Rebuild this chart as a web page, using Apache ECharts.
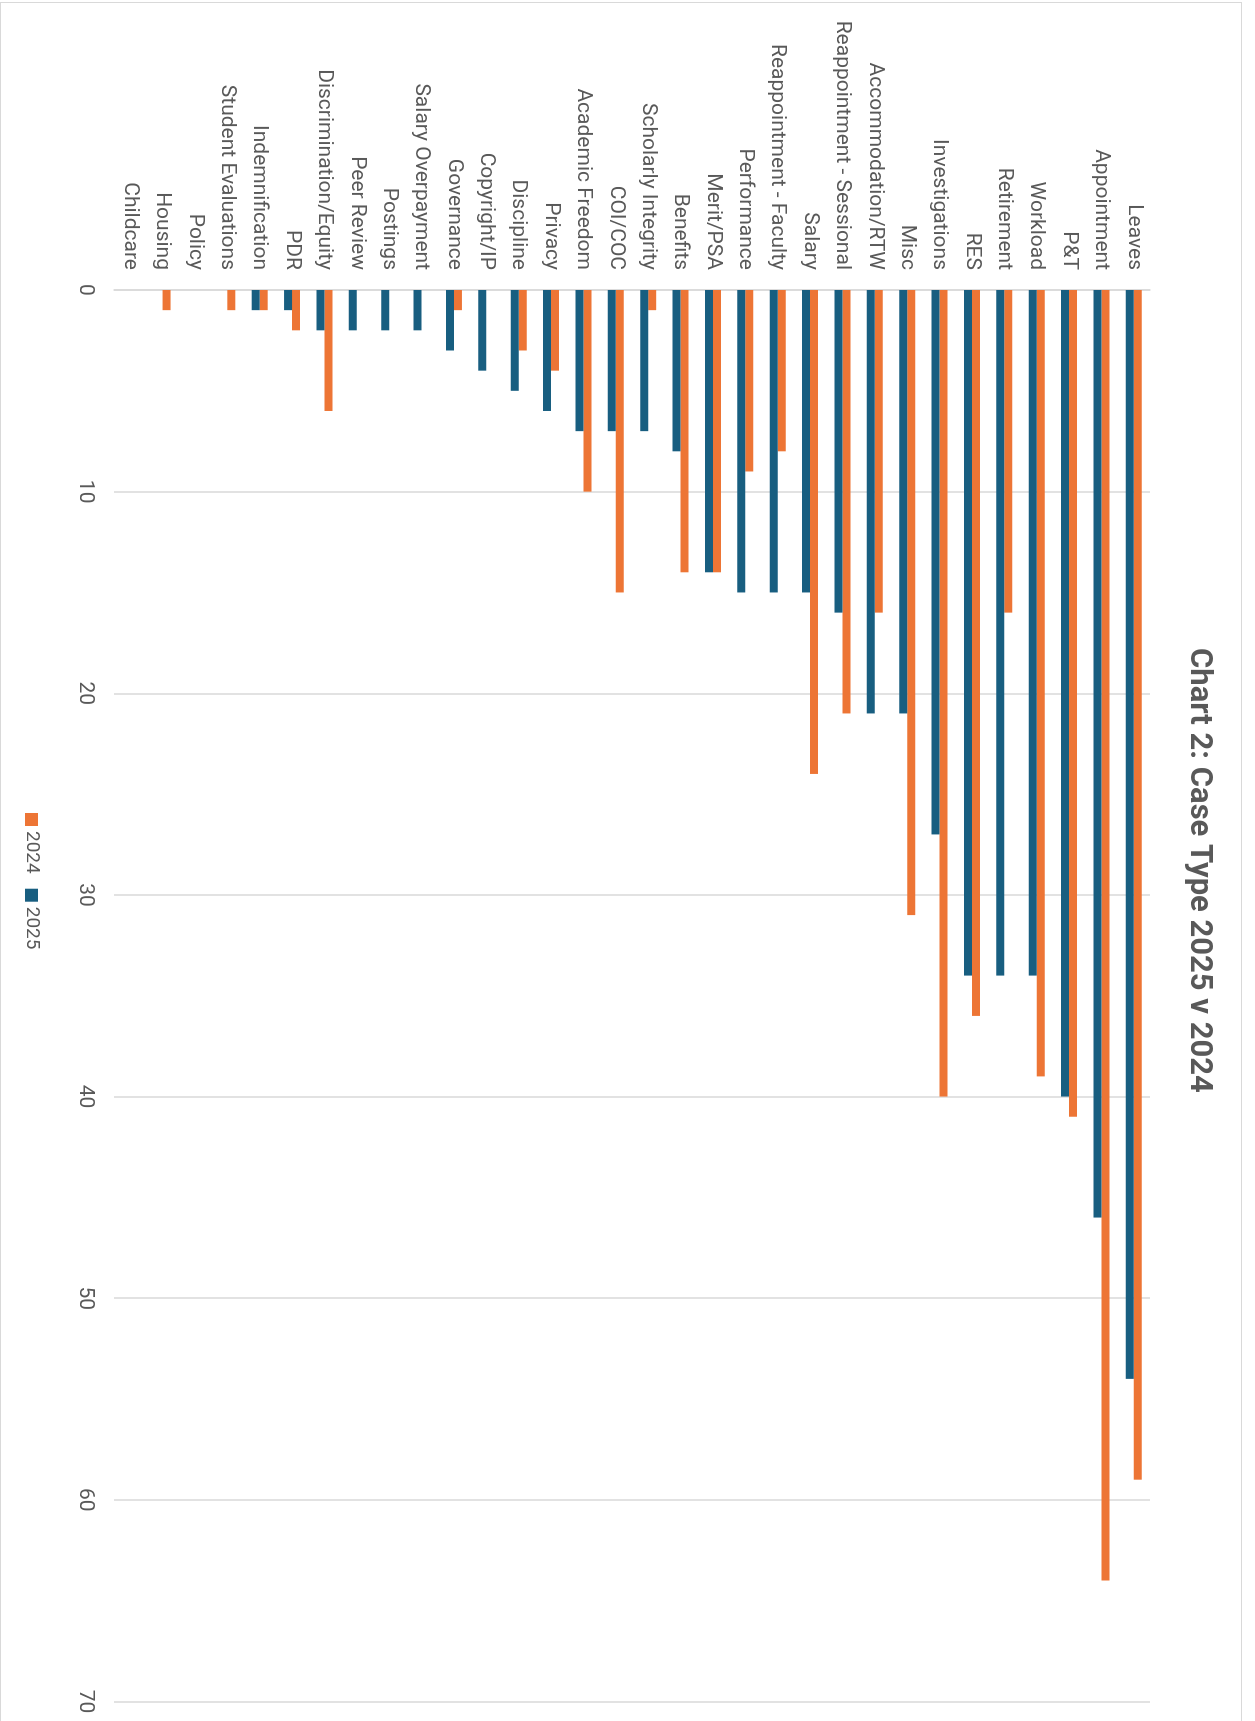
<!DOCTYPE html>
<html>
<head>
<meta charset="utf-8">
<script src="https://cdn.jsdelivr.net/npm/echarts@6/dist/echarts.min.js"></script>
<style>
  html, body { margin: 0; padding: 0; background: #fff; overflow: hidden; width: 1255px; height: 1721px; }
  #frame { position: absolute; left: 0; top: 2px; width: 1242px; height: 1725px; border: 1.5px solid #d9d9d9; box-sizing: border-box; }
  #chart { position: absolute; left: 1255px; top: 0; width: 1721px; height: 1255px; transform-origin: 0 0; transform: rotate(90deg); }
</style>
</head>
<body>
<div id="frame"></div>
<div id="chart"></div>
<script>
const categories = ['Leaves','Appointment','P&T','Workload','Retirement','RES','Investigations','Misc','Accommodation/RTW','Reappointment - Sessional','Salary','Reappointment - Faculty','Performance','Merit/PSA','Benefits','Scholarly Integrity','COI/COC','Academic Freedom','Privacy','Discipline','Copyright/IP','Governance','Salary Overpayment','Postings','Peer Review','Discrimination/Equity','PDR','Indemnification','Student Evaluations','Policy','Housing','Childcare'];
const values2025 = [54,46,40,34,34,34,27,21,21,16,15,15,15,14,8,7,7,7,6,5,4,3,2,2,2,2,1,1,0,0,0,0];
const values2024 = [59,64,41,39,16,36,40,31,16,21,24,8,9,14,14,1,15,10,4,3,0,1,0,0,0,6,2,1,1,0,1,0];
const seriesNames = ['2024','2025'];
const titleText = 'Chart 2: Case Type 2025 v 2024';

const FONT = "Roboto, 'Liberation Sans', sans-serif";
const chart = echarts.init(document.getElementById('chart'), null, { renderer: 'canvas' });
chart.setOption({
  animation: false,
  backgroundColor: 'transparent',
  title: {
    text: titleText,
    left: 643, top: 36,
    textStyle: { fontFamily: FONT, fontSize: 31, fontWeight: 'bold', color: '#595959' }
  },
  legend: {
    data: seriesNames,
    left: 808, top: 1209,
    itemWidth: 13, itemHeight: 13, itemGap: 15,
    icon: 'rect',
    textStyle: { fontFamily: FONT, fontSize: 19, color: '#595959' }
  },
  grid: { left: 290, right: 19.5, top: 105, bottom: 114, containLabel: false, outerBoundsMode: 'none' },
  xAxis: {
    type: 'value', min: 0, max: 70, interval: 10,
    axisLine: { show: false }, axisTick: { show: false },
    splitLine: { lineStyle: { color: '#d9d9d9', width: 1.5 } },
    axisLabel: { fontFamily: FONT, fontSize: 21, color: '#595959', margin: 18 }
  },
  yAxis: {
    type: 'category', data: categories, inverse: true,
    axisLine: { show: true, lineStyle: { color: '#d9d9d9', width: 1.5 } },
    axisTick: { show: false },
    axisLabel: { fontFamily: FONT, fontSize: 21, color: '#595959', margin: 20, interval: 0 }
  },
  series: [
    { name: '2024', type: 'bar', data: values2024, barWidth: 8, barGap: '0%', itemStyle: { color: '#ED7535' } },
    { name: '2025', type: 'bar', data: values2025, barWidth: 8, barGap: '0%', itemStyle: { color: '#185E80' } }
  ]
});
</script>
</body>
</html>
